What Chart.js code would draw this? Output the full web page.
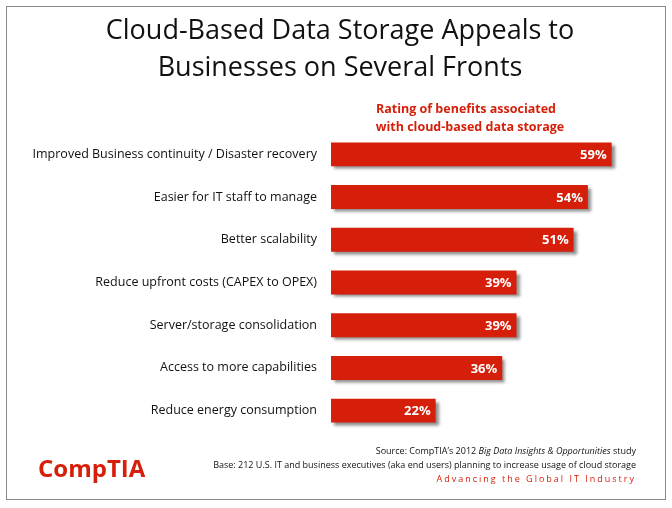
<!DOCTYPE html>
<html>
<head>
<meta charset="utf-8">
<script src="https://cdn.jsdelivr.net/npm/chart.js@4.4.0/dist/chart.umd.min.js"></script>
<style>
  html, body { margin: 0; padding: 0; background: #fff; }
  #wrap { width: 672px; height: 508px; position: relative; }
</style>
</head>
<body>
<div id="wrap"><canvas id="chart" width="672" height="508"></canvas></div>
<script>
const categories = [
    'Improved Business continuity / Disaster recovery',
    'Easier for IT staff to manage',
    'Better scalability',
    'Reduce upfront costs (CAPEX to OPEX)',
    'Server/storage consolidation',
    'Access to more capabilities',
    'Reduce energy consumption'
];
const ratings = [59, 54, 51, 39, 39, 36, 22];
const titleLines = ['Cloud-Based Data Storage Appeals to', 'Businesses on Several Fronts'];
const subtitleLines = ['Rating of benefits associated', 'with cloud-based data storage'];

const red = '#d61f0a';

// shadow under the bars
const barShadow = {
    id: 'barShadow',
    beforeDatasetsDraw(chart) {
        const ctx = chart.ctx;
        ctx.save();
        ctx.shadowColor = 'rgba(0,0,0,0.45)';
        ctx.shadowOffsetX = 3;
        ctx.shadowOffsetY = 3;
        ctx.shadowBlur = 3;
    },
    afterDatasetsDraw(chart) {
        chart.ctx.restore();
    }
};

// frame, title, value labels, footer
const decorations = {
    id: 'decorations',
    beforeDraw(chart) {
        const ctx = chart.ctx;
        ctx.save();
        ctx.strokeStyle = '#888';
        ctx.lineWidth = 1;
        ctx.strokeRect(6.5, 6.5, 659, 493);
        ctx.restore();
    },
    afterDraw(chart) {
        const ctx = chart.ctx;
        ctx.save();
        ctx.fillStyle = '#111';
        ctx.textAlign = 'center';
        ctx.textBaseline = 'middle';
        ctx.font = '27px "Open Sans", Lato, sans-serif';
        ctx.fillText(titleLines[0], 340, 31);
        ctx.fillText(titleLines[1], 340, 68);

        ctx.fillStyle = red;
        ctx.font = 'bold 12.5px "Open Sans", sans-serif';
        ctx.fillText(subtitleLines[0], 466, 109);
        ctx.fillText(subtitleLines[1], 470, 127);

        // values inside bars
        const meta = chart.getDatasetMeta(0);
        ctx.fillStyle = '#fff';
        ctx.font = 'bold 13px "Open Sans", sans-serif';
        ctx.textAlign = 'right';
        meta.data.forEach((bar, i) => {
            ctx.fillText(ratings[i] + '%', bar.x - 5, bar.y + 1);
        });

        // footer
        ctx.fillStyle = '#111';
        ctx.font = '9px "Open Sans", sans-serif';
        const src1 = 'Source: CompTIA\u2019s 2012 ';
        const srcI = 'Big Data Insights & Opportunities';
        const src2 = ' study';
        ctx.textAlign = 'left';
        const w1 = ctx.measureText(src1).width;
        const w3 = ctx.measureText(src2).width;
        ctx.font = 'italic 9px "Open Sans", sans-serif';
        const w2 = ctx.measureText(srcI).width;
        let x = 636 - (w1 + w2 + w3);
        ctx.font = '9px "Open Sans", sans-serif';
        ctx.fillText(src1, x, 451);
        ctx.font = 'italic 9px "Open Sans", sans-serif';
        ctx.fillText(srcI, x + w1, 451);
        ctx.font = '9px "Open Sans", sans-serif';
        ctx.fillText(src2, x + w1 + w2, 451);
        ctx.textAlign = 'right';
        ctx.fillText('Base: 212 U.S. IT and business executives (aka end users) planning to increase usage of cloud storage', 636, 465);
        ctx.fillStyle = red;
        ctx.font = '9px "Open Sans", sans-serif';
        ctx.letterSpacing = '2px';
        ctx.fillText('Advancing the Global IT Industry', 636, 479);
        ctx.letterSpacing = '0px';

        // logo
        ctx.textAlign = 'left';
        ctx.font = 'bold 24px "Open Sans", sans-serif';
        ctx.fillText('CompTIA', 38, 470);
        ctx.restore();
    }
};

new Chart(document.getElementById('chart'), {
    type: 'bar',
    data: {
        labels: categories,
        datasets: [{
            data: ratings,
            backgroundColor: red,
            barPercentage: 0.56,
            categoryPercentage: 1
        }]
    },
    options: {
        indexAxis: 'y',
        responsive: false,
        animation: false,
        layout: { padding: { top: 133, bottom: 76, left: 0, right: 8 } },
        plugins: { legend: { display: false }, tooltip: { enabled: false } },
        scales: {
            x: { display: false, min: 0, max: 70 },
            y: {
                grid: { display: false },
                border: { display: false },
                afterFit(scale) { scale.width = 331; },
                ticks: {
                    color: '#111',
                    padding: 6,
                    font: { size: 12.5, family: '"Open Sans", sans-serif' }
                }
            }
        }
    },
    plugins: [barShadow, decorations]
});
</script>
</body>
</html>
